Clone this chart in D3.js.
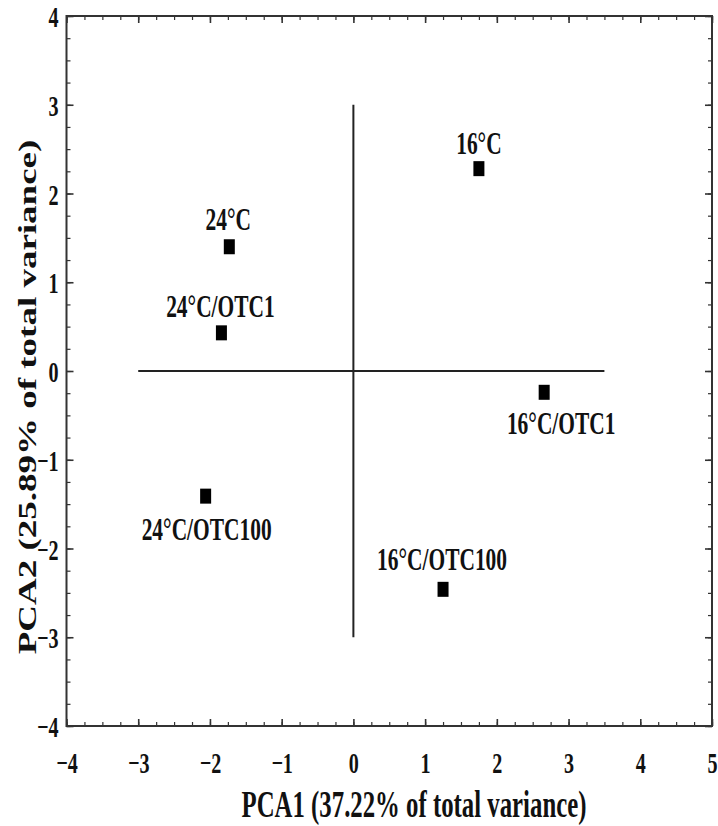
<!DOCTYPE html>
<html>
<head>
<meta charset="utf-8">
<script src="https://cdn.jsdelivr.net/npm/d3@7"></script>
<style>
    body { margin: 0; background: #fff; }
    text { font-family: "Liberation Serif", "Times New Roman", serif; font-weight: bold; fill: #111; }
</style>
</head>
<body>
<div id="chart-holder"></div>
<script>
// treatment names and their scores on the two components
var treatments = ['24°C', '24°C/OTC1', '24°C/OTC100', '16°C', '16°C/OTC1', '16°C/OTC100'];
var pca1 = [-1.73, -1.84, -2.06, 1.75, 2.66, 1.25];
var pca2 = [1.40, 0.43, -1.41, 2.28, -0.24, -2.46];

// axis ticks
var xTicks = [-4, -3, -2, -1, 0, 1, 2, 3, 4, 5];
var yTicks = [-4, -3, -2, -1, 0, 1, 2, 3, 4];

// cross lines through the origin
var hLine = [-3, 3.5];
var vLine = [-3, 3];

var xTitle = 'PCA1 (37.22% of total variance)';
var yTitle = 'PCA2 (25.89% of total variance)';

function buildChart(containerId) {
    var width = 718;
    var height = 826;
    var squeeze = 0.67; // text in the original is narrowed horizontally

    var margin = { top: 16, right: 6, bottom: 100, left: 66.5 };
    var innerWidth = width - margin.left - margin.right;
    var innerHeight = height - margin.top - margin.bottom;

    var svg = d3.select(containerId)
        .append('svg')
        .attr('width', width)
        .attr('height', height);

    var g = svg.append('g')
        .attr('transform', 'translate(' + margin.left + ',' + margin.top + ')');

    var x = d3.scaleLinear().domain([-4, 5]).range([0, innerWidth]);
    var y = d3.scaleLinear().domain([-4, 4]).range([innerHeight, 0]);

    // quarter-unit minor ticks
    var xMinor = d3.range(-4, 5.001, 0.25);
    var yMinor = d3.range(-4, 4.001, 0.25);

    function minorAxis(axis, sel, ticks) {
        sel.call(axis.tickValues(ticks).tickSize(-4).tickFormat(''));
        sel.select('.domain').remove();
        sel.selectAll('line').attr('stroke', '#333').attr('stroke-width', 1.2);
    }

    function majorAxis(axis, sel, ticks, labels) {
        sel.call(axis.tickValues(ticks).tickSize(-7).tickPadding(0)
            .tickFormat(labels ? d3.format('d') : ''));
        sel.select('.domain').remove();
        sel.selectAll('line').attr('stroke', '#333').attr('stroke-width', 1.6);
        sel.selectAll('text').style('font-size', '30px');
    }

    // bottom
    var gb = g.append('g').attr('transform', 'translate(0,' + innerHeight + ')');
    minorAxis(d3.axisBottom(x), gb.append('g'), xMinor);
    var gbm = gb.append('g');
    majorAxis(d3.axisBottom(x), gbm, xTicks, true);
    gbm.selectAll('text')
        .attr('y', 0)
        .attr('dy', 0)
        .attr('transform', 'translate(0,47) scale(' + squeeze + ',1)');

    // top
    var gt = g.append('g');
    minorAxis(d3.axisTop(x), gt.append('g'), xMinor);
    majorAxis(d3.axisTop(x), gt.append('g'), xTicks, false);

    // left
    var gl = g.append('g');
    minorAxis(d3.axisLeft(y), gl.append('g'), yMinor);
    var glm = gl.append('g');
    majorAxis(d3.axisLeft(y), glm, yTicks, true);
    glm.selectAll('text')
        .attr('x', 0)
        .attr('dy', '0.35em')
        .attr('transform', 'translate(-8,0) scale(' + squeeze + ',1)');

    // right
    var gr = g.append('g').attr('transform', 'translate(' + innerWidth + ',0)');
    minorAxis(d3.axisRight(y), gr.append('g'), yMinor);
    majorAxis(d3.axisRight(y), gr.append('g'), yTicks, false);

    // frame
    g.append('rect')
        .attr('x', 0)
        .attr('y', 0)
        .attr('width', innerWidth)
        .attr('height', innerHeight)
        .attr('fill', 'none')
        .attr('stroke', '#333')
        .attr('stroke-width', 2);

    // lines through origin
    g.append('line')
        .attr('x1', x(hLine[0])).attr('x2', x(hLine[1]))
        .attr('y1', y(0)).attr('y2', y(0))
        .attr('stroke', '#222').attr('stroke-width', 2);
    g.append('line')
        .attr('x1', x(0)).attr('x2', x(0))
        .attr('y1', y(vLine[0])).attr('y2', y(vLine[1]))
        .attr('stroke', '#222').attr('stroke-width', 2);

    var data = treatments.map(function(d, i) {
        return { name: d, pc1: pca1[i], pc2: pca2[i] };
    });

    // markers
    var mw = 11, mh = 15;
    g.selectAll('.pt')
        .data(data)
        .enter()
        .append('rect')
        .attr('class', 'pt')
        .attr('x', function(d) { return x(d.pc1) - mw / 2; })
        .attr('y', function(d) { return y(d.pc2) - mh / 2; })
        .attr('width', mw)
        .attr('height', mh)
        .attr('fill', '#000');

    // label placement: dx, dy from marker centre to text baseline centre
    var place = {
        '24°C': [-1, -17],
        '24°C/OTC1': [-1, -16],
        '24°C/OTC100': [1, 44],
        '16°C': [0, -15],
        '16°C/OTC1': [17, 42],
        '16°C/OTC100': [-1, -19]
    };

    g.selectAll('.lbl')
        .data(data)
        .enter()
        .append('text')
        .attr('class', 'lbl')
        .attr('text-anchor', 'middle')
        .style('font-size', '32px')
        .attr('transform', function(d) {
            var p = place[d.name];
            return 'translate(' + (x(d.pc1) + p[0]) + ',' + (y(d.pc2) + p[1]) + ') scale(' + squeeze + ',1)';
        })
        .text(function(d) { return d.name; });

    // axis titles
    svg.append('text')
        .attr('text-anchor', 'middle')
        .style('font-size', '37px')
        .attr('transform', 'translate(414,817) scale(' + squeeze + ',1)')
        .text(xTitle);

    svg.append('text')
        .attr('text-anchor', 'middle')
        .style('font-size', '37px')
        .attr('transform', 'translate(36,397) rotate(-90) scale(1,' + squeeze + ')')
        .text(yTitle);
}

buildChart('#chart-holder');
</script>
</body>
</html>
